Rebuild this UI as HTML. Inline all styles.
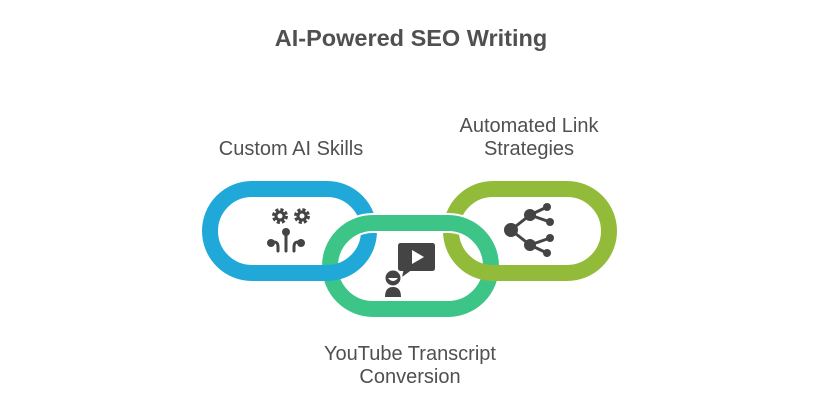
<!DOCTYPE html>
<html><head><meta charset="utf-8"><style>
html,body{margin:0;padding:0;background:#fff;width:822px;height:412px;overflow:hidden}
svg{display:block}
text{font-family:"Liberation Sans",Arial,sans-serif;fill:#505050}
</style></head><body>
<svg width="822" height="412" viewBox="0 0 822 412">
<defs>
<clipPath id="top"><rect x="0" y="0" width="822" height="252"/></clipPath>
</defs>
<text x="411" y="46" text-anchor="middle" font-size="23.5" font-weight="bold" fill="#444">AI-Powered SEO Writing</text>
<text x="291" y="155" text-anchor="middle" font-size="20">Custom AI Skills</text>
<text x="529" y="132" text-anchor="middle" font-size="20">Automated Link</text>
<text x="529" y="155" text-anchor="middle" font-size="20">Strategies</text>
<text x="410" y="360" text-anchor="middle" font-size="20">YouTube Transcript</text>
<text x="410" y="383" text-anchor="middle" font-size="20">Conversion</text>

<rect x="330" y="223" width="161" height="86" rx="43" fill="none" stroke="#3cc586" stroke-width="16"/>
<rect x="210" y="189" width="159" height="84" rx="42" fill="none" stroke="#1fa8d8" stroke-width="16"/>
<rect x="451" y="189" width="158" height="84" rx="42" fill="none" stroke="#93bb3a" stroke-width="16"/>
<g clip-path="url(#top)">
<rect x="330" y="223" width="161" height="86" rx="43" fill="none" stroke="#fff" stroke-width="20"/>
<rect x="330" y="223" width="161" height="86" rx="43" fill="none" stroke="#3cc586" stroke-width="16"/>
</g>

<g fill="#444" stroke="#444">
<!-- gears -->
<circle cx="280" cy="216" r="6.2" fill="none" stroke-width="3.5" stroke-dasharray="3 1.9"/>
<circle cx="280" cy="216" r="4" fill="none" stroke-width="3"/>
<circle cx="302" cy="216" r="6.2" fill="none" stroke-width="3.5" stroke-dasharray="3 1.9"/>
<circle cx="302" cy="216" r="4" fill="none" stroke-width="3"/>
<!-- circuit -->
<circle cx="286" cy="232" r="4" stroke="none"/>
<line x1="286" y1="232" x2="286" y2="251" stroke-width="3" stroke-linecap="round"/>
<circle cx="271" cy="243" r="4" stroke="none"/>
<path d="M271 243 Q278 240 278 247 L278 251" fill="none" stroke-width="3" stroke-linecap="round"/>
<circle cx="301" cy="243" r="4" stroke="none"/>
<path d="M301 243 Q294 240 294 247 L294 251" fill="none" stroke-width="3" stroke-linecap="round"/>
<!-- video -->
<rect x="398" y="243" width="37" height="28" rx="2.5" stroke="none"/>
<path d="M404 268 L402 277 L413 269 Z" stroke="none"/>
<path d="M412 250 L424 257 L412 264 Z" fill="#fff" stroke="none"/>
<circle cx="393" cy="278" r="9.5" fill="#fff" stroke="none"/>
<circle cx="393" cy="278" r="7.5" stroke="none"/>
<path d="M388 278 Q393 284 398 278 Z" fill="#fff" stroke="none"/>
<path d="M385 297 Q385 287 393 287 Q401 287 401 297 Z" stroke="none"/>
<!-- share -->
<g stroke-width="3">
<line x1="511" y1="230" x2="530" y2="215"/><line x1="511" y1="230" x2="530" y2="245"/>
<line x1="530" y1="215" x2="547" y2="207"/><line x1="530" y1="215" x2="550" y2="222"/>
<line x1="530" y1="245" x2="550" y2="238"/><line x1="530" y1="245" x2="547" y2="253"/>
</g>
<g stroke="none">
<circle cx="511" cy="230" r="7"/><circle cx="530" cy="215" r="6"/><circle cx="530" cy="245" r="6"/>
<circle cx="547" cy="207" r="4"/><circle cx="550" cy="222" r="4"/><circle cx="550" cy="238" r="4"/><circle cx="547" cy="253" r="4"/>
</g>
</g>
</svg>
</body></html>
